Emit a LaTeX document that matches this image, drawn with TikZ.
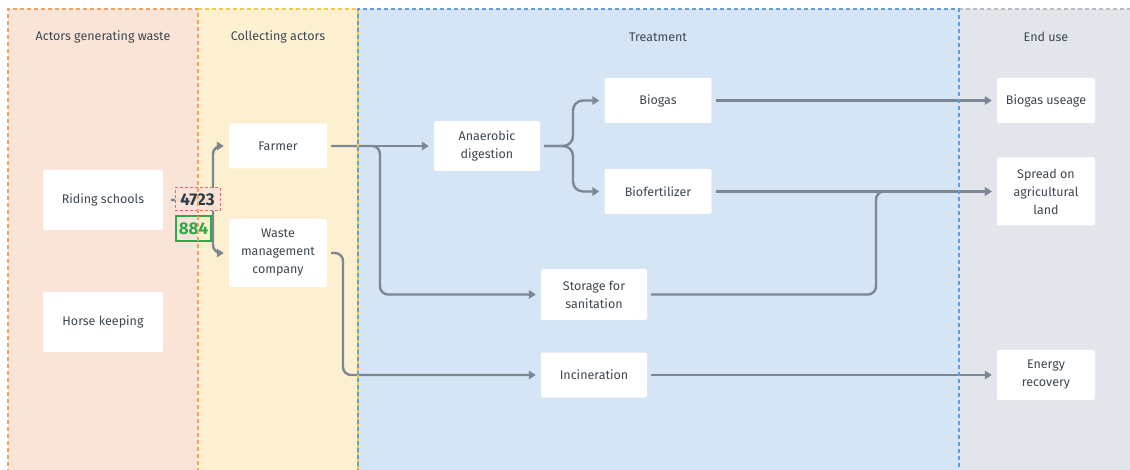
\documentclass[tikz,border=0pt]{standalone}
\usepackage{fontspec}
\setmainfont{Fira Sans}
\usetikzlibrary{arrows.meta}

\definecolor{laneA}{HTML}{F9E4D7}
\definecolor{laneAline}{HTML}{F2A15E}
\definecolor{laneB}{HTML}{FDF0D0}
\definecolor{laneBline}{HTML}{F5C84A}
\definecolor{laneC}{HTML}{D5E5F5}
\definecolor{laneCline}{HTML}{5D9EDB}
\definecolor{laneD}{HTML}{E2E6EA}
\definecolor{laneDline}{HTML}{B9BEC4}
\definecolor{txt}{HTML}{3D4852}
\definecolor{tagtxt}{HTML}{313B46}
\definecolor{wire}{HTML}{7C8793}
\definecolor{redtag}{HTML}{E06A78}
\definecolor{greentag}{HTML}{2FAA48}

\tikzset{
  lanebg/.style={fill=#1, draw=none},
  laneborder/.style={draw=#1, line width=1.5pt, dash pattern=on 4pt off 3pt},
  lanetitle/.style={text=txt, font=\fontsize{12.5}{14}\selectfont},
  box/.style={fill=white, rounded corners=2pt, text=txt, align=center,
    font=\fontsize{12.5}{18}\selectfont, inner sep=0pt},
  flow/.style={draw=wire, line width=2.4pt, rounded corners=8pt,
    shorten <=4pt, shorten >=5pt, -{Triangle[length=7pt,width=8.5pt]}},
  tag/.style={inner sep=0pt, font=\bfseries\fontsize{17}{17}\selectfont}
}

\begin{document}
\begin{tikzpicture}[x=1pt,y=-1pt]
\useasboundingbox (0,0) rectangle (1130,470);
\clip (0,0) rectangle (1130,470);

% swim lanes
\fill[lanebg=laneA] (8,9) rectangle (198,480);
\fill[lanebg=laneB] (198,9) rectangle (358,480);
\fill[lanebg=laneC] (358,9) rectangle (959,480);
\fill[lanebg=laneD] (959,9) rectangle (1140,480);

\node[lanetitle] (tA) at (103,37) {Actors generating waste};
\node[lanetitle] (tB) at (278,37) {Collecting actors};
\node[lanetitle] (tC) at (658,37) {Treatment};
\node[lanetitle] (tD) at (1046,37) {End use};

% process boxes
\node[box, minimum width=120pt, minimum height=60pt] (rs) at (103,200) {Riding schools};
\node[box, minimum width=120pt, minimum height=60pt] (hk) at (103,322) {Horse keeping};
\node[box, minimum width=98pt, minimum height=45pt] (fa) at (278,146) {Farmer};
\node[box, minimum width=98pt, minimum height=68pt] (wm) at (278,253) {Waste\\management\\company};
\node[box, minimum width=106pt, minimum height=50pt] (ad) at (487,146) {Anaerobic\\digestion};
\node[box, minimum width=107pt, minimum height=45pt] (bg) at (658,100.5) {Biogas};
\node[box, minimum width=107pt, minimum height=45pt] (bf) at (658,191.5) {Biofertilizer};
\node[box, minimum width=106pt, minimum height=51pt] (st) at (594,294.5) {Storage for\\sanitation};
\node[box, minimum width=106pt, minimum height=45pt] (in) at (594,375) {Incineration};
\node[box, minimum width=98pt, minimum height=45pt] (bu) at (1046,100.5) {Biogas useage};
\node[box, minimum width=98pt, minimum height=68pt] (sp) at (1046,191.5) {Spread on\\agricultural\\land};
\node[box, minimum width=98pt, minimum height=50pt] (er) at (1046,375) {Energy\\recovery};

% material flows
\draw[flow, shorten <=8pt] (rs.east) -- (213,200) |- (fa.west);
\draw[flow, shorten <=8pt] (rs.east) -- (213,200) |- (wm.west);
\draw[flow] (fa.east) -- (ad.west);
\draw[flow] (fa.east) -- (380,146) |- (st.west);
\draw[flow, rounded corners=10pt] (ad.east) -- (573,146) |- (bg.west);
\draw[flow, rounded corners=10pt] (ad.east) -- (573,146) |- (bf.west);
\draw[flow] (wm.east) -- (343,253) |- (in.west);
\draw[flow] (bg.east) -- (bu.west);
\draw[flow] (bf.east) -- (sp.west);
\draw[flow] (st.east) -- (876,294.5) |- (sp.west);
\draw[flow] (in.east) -- (er.west);

% quantity tags
\node[tag, draw=redtag, line width=1pt, dash pattern=on 3pt off 2pt,
  fill=laneA, fill opacity=0.92, text opacity=1, text=tagtxt,
  minimum width=45pt, minimum height=23pt] (q1) at (197.5,199.5) {4723};
\node[tag, draw=greentag, line width=1.2pt, text=greentag,
  minimum width=35pt, minimum height=25pt] (q2) at (193.5,228.5) {884};

% lane borders on top
\draw[laneborder=laneAline] (8,480) -- (8,9) -- (198,9) -- (198,480);
\draw[laneborder=laneBline] (198,9) -- (358,9) -- (358,480);
\draw[laneborder=laneDline] (959,9) -- (1140,9);
\draw[laneborder=laneCline] (358,480) -- (358,9) -- (959,9) -- (959,480);
\end{tikzpicture}
\end{document}
